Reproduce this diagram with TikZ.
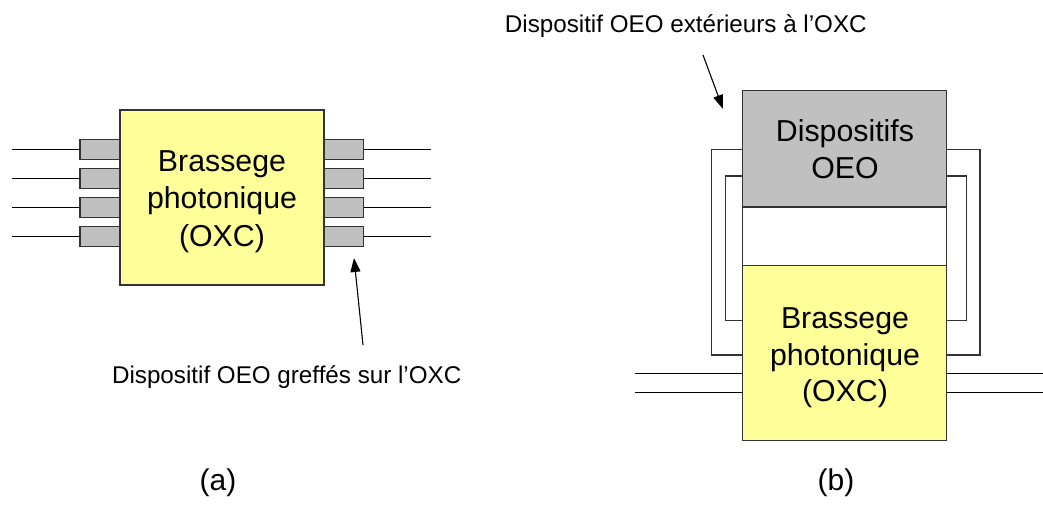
\documentclass[tikz,border=0pt]{standalone}
\usepackage{fontspec}
\setmainfont{Liberation Sans}
\usetikzlibrary{arrows.meta}
\definecolor{oxcyellow}{HTML}{FFFF99}
\definecolor{oeogray}{HTML}{C0C0C0}
\definecolor{edge}{HTML}{333333}
\tikzset{
  boxbase/.style={draw=edge, line width=1.3pt, inner sep=0pt},
  oxcbox/.style={boxbase, fill=oxcyellow},
  graybox/.style={boxbase, fill=oeogray},
  whitebox/.style={boxbase, fill=white},
  portbox/.style={draw=edge, line width=1.3pt, fill=oeogray, minimum width=40pt, minimum height=20pt, inner sep=0pt},
  fibre/.style={draw=black, line width=1.1pt},
  loopline/.style={draw=edge, line width=1.2pt},
  pointer/.style={draw=black, line width=1.1pt, -{Triangle[length=14pt,width=10pt]}},
  bigtxt/.style={font=\fontsize{30.3}{36.7}\selectfont, anchor=base, inner sep=0pt},
  lbl/.style={font=\fontsize{24.2}{28}\selectfont, anchor=base, inner sep=0pt},
  caption/.style={font=\fontsize{30}{36}\selectfont, anchor=base, inner sep=0pt}
}
\begin{document}
\begin{tikzpicture}[x=1pt, y=-1pt]
\useasboundingbox (0,0) rectangle (1043,523);

% ---------- (a) ----------
\foreach \i/\y in {1/149.2, 2/178.3, 3/207.3, 4/236.5} {
  \node[portbox] (pl\i) at (100,\y) {};
  \node[portbox] (pr\i) at (343.5,\y) {};
  \coordinate (el\i) at (12,\y);
  \coordinate (er\i) at (431,\y);
  \draw[fibre] (el\i) -- (pl\i.west);
  \draw[fibre] (pr\i.east) -- (er\i);
}
\node[oxcbox, minimum width=204pt, minimum height=175pt] (oxcA) at (222,197.5) {};
\node[bigtxt] (tA1) at (222,171.7) {Brassege};
\node[bigtxt] (tA2) at (222,208.3) {photonique};
\node[bigtxt] (tA3) at (222,246.7) {(OXC)};

\node[lbl] (labA) at (286.7,383.3) {Dispositif OEO greffés sur l’OXC};
\coordinate (tailA) at (363,345);
\coordinate (tipA) at (354,258);
\draw[pointer] (tailA) -- (tipA);

% ---------- (b) ----------
\coordinate (lo1) at (742.7,149.3);
\coordinate (lo2) at (742.7,355);
\coordinate (li1) at (742.7,176);
\coordinate (li2) at (742.7,320.7);
\coordinate (ro1) at (946.7,149.3);
\coordinate (ro2) at (946.7,355);
\coordinate (ri1) at (946.7,176);
\coordinate (ri2) at (946.7,320.7);
\draw[loopline] (lo1) -- (711.7,149.3) -- (711.7,355) -- (lo2);
\draw[loopline] (li1) -- (725.7,176) -- (725.7,320.7) -- (li2);
\draw[loopline] (ro1) -- (980,149.3) -- (980,355) -- (ro2);
\draw[loopline] (ri1) -- (966.7,176) -- (966.7,320.7) -- (ri2);

\node[graybox, minimum width=204pt, minimum height=116.3pt] (oeoB) at (844.7,148.85) {};
\node[whitebox, minimum width=204pt, minimum height=58.7pt] (gapB) at (844.7,236.35) {};
\node[oxcbox, minimum width=204pt, minimum height=175pt] (oxcB) at (844.7,353.2) {};

\node[bigtxt] (tB1) at (845,141.7) {Dispositifs};
\node[bigtxt] (tB2) at (845,178.3) {OEO};
\node[bigtxt] (tB3) at (845,328.3) {Brassege};
\node[bigtxt] (tB4) at (845,365) {photonique};
\node[bigtxt] (tB5) at (845,401.7) {(OXC)};

\coordinate (fl1) at (635,373.3);
\coordinate (fl2) at (635,392.3);
\coordinate (fr1) at (1043,373.3);
\coordinate (fr2) at (1043,392.3);
\draw[fibre] (fl1) -- (oxcB.west |- fl1);
\draw[fibre] (fl2) -- (oxcB.west |- fl2);
\draw[fibre] (oxcB.east |- fr1) -- (fr1);
\draw[fibre] (oxcB.east |- fr2) -- (fr2);

\node[lbl] (labB) at (685.8,32.7) {Dispositif OEO extérieurs à l’OXC};
\coordinate (tailB) at (703,55);
\coordinate (tipB) at (723,109);
\draw[pointer] (tailB) -- (tipB);

\node[caption] (capA) at (218,490) {(a)};
\node[caption] (capB) at (836,490) {(b)};
\end{tikzpicture}
\end{document}
